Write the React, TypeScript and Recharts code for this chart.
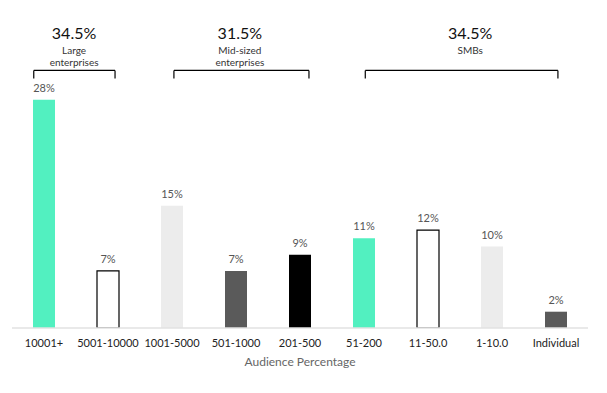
import { BarChart, Bar, XAxis, YAxis, Cell, LabelList, Label, ReferenceLine, ReferenceDot } from "recharts";

const categories = ["10001+", "5001-10000", "1001-5000", "501-1000", "201-500", "51-200", "11-50.0", "1-10.0", "Individual"];
const shares = [28, 7, 15, 7, 9, 11, 12, 10, 2];
const barFills = ["#52f0c0", "#ffffff", "#ececec", "#5a5a5a", "#000000", "#52f0c0", "#ffffff", "#ececec", "#5a5a5a"];
const barStrokes = ["none", "#000000", "none", "none", "none", "none", "#000000", "none", "none"];

const groupTotals = ["34.5%", "31.5%", "34.5%"];
const groupNames = [["Large", "enterprises"], ["Mid-sized", "enterprises"], ["SMBs"]];
// bracket start/end in category index units
const groupSpans = [[-0.16, 1.11], [2.03, 4.14], [5.02, 8.03]];
const groupTextX = [0.47, 3.06, 6.66];

const BRACKET_Y = 31.6;
const BRACKET_TICK_Y = 30.6;
const HEAD_Y = 36.2;

const data = categories.map((name, i) => ({ idx: i, name, value: shares[i] }));

const font = "Lato, 'Open Sans', sans-serif";

function GroupText({ cx, cy, total, lines }: { cx?: number; cy?: number; total: string; lines: string[] }) {
  if (cx == null || cy == null) return null;
  return (
    <g>
      <text x={cx} y={cy} textAnchor="middle" dominantBaseline="central" fontSize={16} fill="#111" fontFamily={font}>
        {total}
      </text>
      {lines.map((l, i) => (
        <text key={l} x={cx} y={cy + 17 + i * 12} textAnchor="middle" dominantBaseline="central" fontSize={10} fill="#333" fontFamily={font}>
          {l}
        </text>
      ))}
    </g>
  );
}

export default function App() {
  return (
    <div style={{ position: "absolute", left: 0, top: 0, background: "#fff" }}>
      <BarChart width={607} height={393} data={data} margin={{ top: 2, right: 19, left: 12, bottom: 43 }}>
        <XAxis
          dataKey="idx"
          type="number"
          domain={[-0.5, 8.5]}
          ticks={categories.map((_, i) => i)}
          tickFormatter={(v: number) => categories[v]}
          interval={0}
          height={22}
          tickLine={false}
          tickSize={0}
          tickMargin={11}
          axisLine={{ stroke: "#e2e2e2", strokeWidth: 1.5 }}
          tick={{ fill: "#222", fontSize: 11, fontFamily: font }}
        >
          <Label value="Audience Percentage" position="bottom" offset={7} fill="#666" fontSize={12} fontFamily={font} />
        </XAxis>
        <YAxis hide domain={[0, 40]} allowDataOverflow />
        <Bar dataKey="value" barSize={22} isAnimationActive={false}>
          {data.map((d, i) => (
            <Cell key={d.name} fill={barFills[i]} stroke={barStrokes[i]} strokeWidth={1.2} />
          ))}
          <LabelList dataKey="value" position="top" offset={8} formatter={(v: number) => `${v}%`} fill="#555" fontSize={11} fontFamily={font} />
        </Bar>
        {groupSpans.map(([a, b], i) => (
          <ReferenceLine key={`h${i}`} segment={[{ x: a, y: BRACKET_Y }, { x: b, y: BRACKET_Y }]} stroke="#000" strokeWidth={1.2} ifOverflow="visible" />
        ))}
        {groupSpans.map(([a], i) => (
          <ReferenceLine key={`l${i}`} segment={[{ x: a, y: BRACKET_Y }, { x: a, y: BRACKET_TICK_Y }]} stroke="#000" strokeWidth={1.2} ifOverflow="visible" />
        ))}
        {groupSpans.map(([, b], i) => (
          <ReferenceLine key={`r${i}`} segment={[{ x: b, y: BRACKET_Y }, { x: b, y: BRACKET_TICK_Y }]} stroke="#000" strokeWidth={1.2} ifOverflow="visible" />
        ))}
        {groupTextX.map((x, i) => (
          <ReferenceDot
            key={`t${i}`}
            x={x}
            y={HEAD_Y}
            r={0}
            ifOverflow="visible"
            shape={(p: any) => <GroupText cx={p.cx} cy={p.cy} total={groupTotals[i]} lines={groupNames[i]} />}
          />
        ))}
      </BarChart>
    </div>
  );
}
